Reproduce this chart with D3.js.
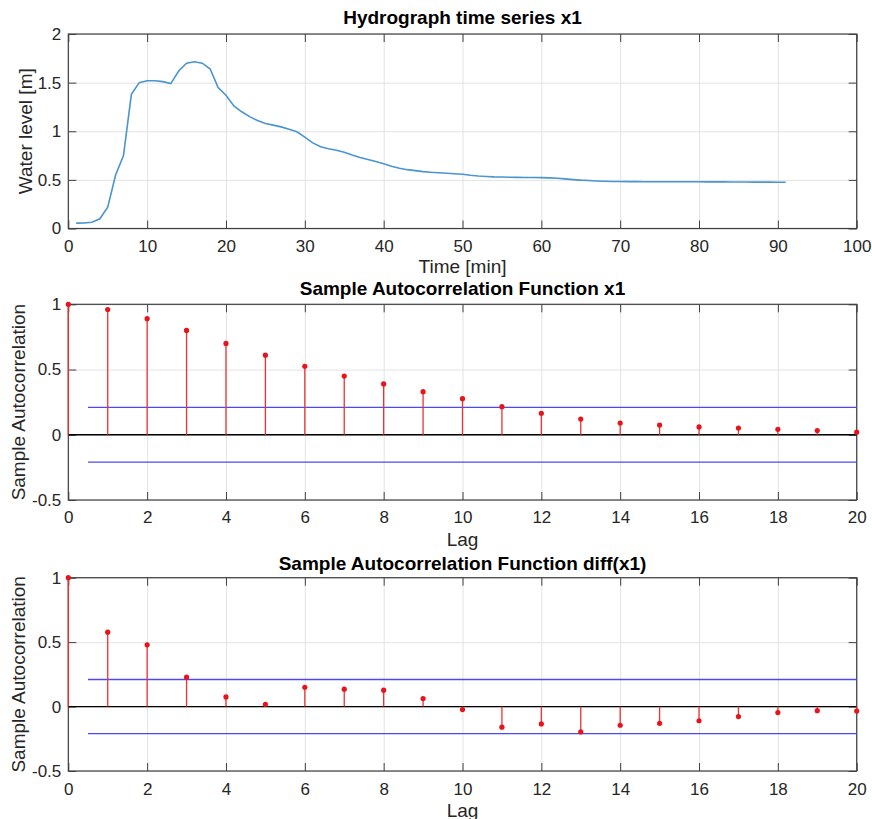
<!DOCTYPE html>
<html>
<head>
<meta charset="utf-8">
<script src="https://cdn.jsdelivr.net/npm/d3@7"></script>
<style>
body{margin:0;background:#fff;}
text{font-family:"Liberation Sans",Arial,Helvetica,sans-serif;fill:#262626;}
.title{font-weight:bold;font-size:19px;fill:#000;}
.label{font-size:19px;}
.tick text{font-size:17px;}
</style>
</head>
<body>
<svg id="chart"></svg>
<script>
//////////////////////////////////////////////////////////////
// data
//////////////////////////////////////////////////////////////

// water level [m], one value per minute, minute 1..91
var waterLevel = [
    0.055,0.056,0.065,0.10,0.22,0.55,0.75,1.38,1.50,1.52,
    1.52,1.51,1.49,1.62,1.70,1.715,1.70,1.64,1.45,1.37,
    1.26,1.20,1.15,1.11,1.08,1.063,1.045,1.02,0.995,0.94,
    0.88,0.84,0.82,0.805,0.785,0.755,0.73,0.71,0.69,0.665,
    0.64,0.62,0.605,0.595,0.585,0.578,0.573,0.568,0.563,0.558,
    0.548,0.540,0.535,0.531,0.529,0.527,0.526,0.525,0.524,0.523,
    0.521,0.517,0.510,0.503,0.497,0.493,0.489,0.486,0.484,0.483,
    0.482,0.482,0.481,0.481,0.481,0.480,0.480,0.480,0.480,0.480,
    0.479,0.479,0.479,0.478,0.478,0.478,0.477,0.477,0.477,0.476,
    0.476
];

// sample autocorrelation, lags 0..20
var acfX1 = [1,0.96,0.89,0.80,0.70,0.61,0.525,0.45,0.39,0.33,
    0.277,0.215,0.165,0.12,0.09,0.075,0.06,0.052,0.042,0.032,0.02];

var acfDiffX1 = [1,0.577,0.479,0.228,0.075,0.018,0.15,0.135,0.127,0.062,
    -0.023,-0.16,-0.135,-0.197,-0.145,-0.13,-0.11,-0.078,-0.047,-0.032,-0.035];

// confidence bounds
var boundX1 = 0.21;
var boundDiff = 0.21;

// tick labels
var timeTicks = [0,10,20,30,40,50,60,70,80,90,100];
var levelTicks = [0,0.5,1,1.5,2];
var lagTicks = [0,2,4,6,8,10,12,14,16,18,20];
var acfTicks = [-0.5,0,0.5,1];

//////////////////////////////////////////////////////////////
//////////////////////////////////////////////////////////////
var frameColor = "#404040";
var gridColor = "#e3e3e3";
var tickLen = 8;

var drawFrame = function(svg,box,xScale,yScale,xTicks,yTicks,pad)
{
    var h = box.bottom-box.top;
    var w = box.right-box.left;
    var fmt = function(d){return String(d);}
    var g = svg.append("g")

    //grid
    g.append("g")
        .attr("transform","translate(0,"+box.bottom+")")
        .call(d3.axisBottom(xScale).tickValues(xTicks)
            .tickSizeInner(-h).tickFormat(""))
        .call(function(a){a.select(".domain").remove();})
        .selectAll("line").attr("stroke",gridColor)
    g.append("g")
        .attr("transform","translate("+box.left+",0)")
        .call(d3.axisLeft(yScale).tickValues(yTicks)
            .tickSizeInner(-w).tickFormat(""))
        .call(function(a){a.select(".domain").remove();})
        .selectAll("line").attr("stroke",gridColor)

    //ticks pointing inwards, labels on left and bottom
    var axes = [
        {ax:d3.axisBottom(xScale).tickValues(xTicks).tickFormat(fmt).tickPadding(pad),
         t:"translate(0,"+box.bottom+")"},
        {ax:d3.axisTop(xScale).tickValues(xTicks).tickFormat(""),
         t:"translate(0,"+box.top+")"},
        {ax:d3.axisLeft(yScale).tickValues(yTicks).tickFormat(fmt).tickPadding(7),
         t:"translate("+box.left+",0)"},
        {ax:d3.axisRight(yScale).tickValues(yTicks).tickFormat(""),
         t:"translate("+box.right+",0)"}
    ];
    axes.forEach(function(a)
    {
        g.append("g")
            .attr("transform",a.t)
            .call(a.ax.tickSizeInner(-tickLen).tickSizeOuter(0))
            .call(function(s){s.select(".domain").remove();})
            .selectAll("line").attr("stroke",frameColor)
    })

    //box
    g.append("rect")
        .attr("x",box.left)
        .attr("y",box.top)
        .attr("width",w)
        .attr("height",h)
        .attr("fill","none")
        .attr("stroke",frameColor)
        .attr("stroke-width",1.2)
}

var drawLabels = function(svg,box,title,xTitle,yTitle,xBase,yBase,tBase)
{
    var cx = (box.left+box.right)/2;
    var cy = (box.top+box.bottom)/2;
    svg.append("text")
        .text(title)
        .classed("title",true)
        .attr("text-anchor","middle")
        .attr("x",cx)
        .attr("y",tBase)
    svg.append("text")
        .text(xTitle)
        .classed("label",true)
        .attr("text-anchor","middle")
        .attr("x",cx)
        .attr("y",xBase)
    svg.append("text")
        .text(yTitle)
        .classed("label",true)
        .attr("text-anchor","middle")
        .attr("transform","translate("+yBase+","+cy+") rotate(-90)")
}

var drawHydrograph = function(svg,xScale,yScale)
{
    var lineGenerator = d3.line()
        .x(function(level,index){return xScale(index+1);})
        .y(function(level){return yScale(level);})

    svg.append("path")
        .datum(waterLevel)
        .attr("d",lineGenerator)
        .attr("fill","none")
        .attr("stroke","#4a95d0")
        .attr("stroke-width",1.6)
}

var drawStems = function(svg,xScale,yScale,acf,bound)
{
    var g = svg.append("g")

    //zero line
    g.append("line")
        .attr("x1",xScale(0)).attr("x2",xScale(20))
        .attr("y1",yScale(0)).attr("y2",yScale(0))
        .attr("stroke","#000")
        .attr("stroke-width",1.3)

    //confidence bounds
    g.selectAll(".bound")
        .data([bound,-bound])
        .enter()
        .append("line")
        .classed("bound",true)
        .attr("x1",xScale(0.5)).attr("x2",xScale(20))
        .attr("y1",function(b){return yScale(b);})
        .attr("y2",function(b){return yScale(b);})
        .attr("stroke","#4a4af5")
        .attr("stroke-width",1.4)

    //stems
    g.selectAll(".stem")
        .data(acf)
        .enter()
        .append("line")
        .classed("stem",true)
        .attr("x1",function(v,i){return xScale(i);})
        .attr("x2",function(v,i){return xScale(i);})
        .attr("y1",yScale(0))
        .attr("y2",function(v){return yScale(v);})
        .attr("stroke","#f03030")
        .attr("stroke-width",1.3)

    g.selectAll(".dot")
        .data(acf)
        .enter()
        .append("circle")
        .classed("dot",true)
        .attr("cx",function(v,i){return xScale(i);})
        .attr("cy",function(v){return yScale(v);})
        .attr("r",2.6)
        .attr("fill","#e8141c")
}

var initGraph = function(target)
{
    var screen = {width:872, height:819};
    var svg = d3.select(target)
        .attr("width",screen.width)
        .attr("height",screen.height)

    var left = 68.3, right = 856.7;
    var boxTop = {left:left,right:right,top:34,bottom:228.5};
    var boxMid = {left:left,right:right,top:304.3,bottom:500};
    var boxBot = {left:left,right:right,top:577.7,bottom:771};

    //hydrograph
    var xTime = d3.scaleLinear().domain([0,100]).range([left,right]);
    var yLevel = d3.scaleLinear().domain([0,2]).range([boxTop.bottom,boxTop.top]);
    drawFrame(svg,boxTop,xTime,yLevel,timeTicks,levelTicks,11);
    drawHydrograph(svg,xTime,yLevel);
    drawLabels(svg,boxTop,"Hydrograph time series x1","Time [min]",
               "Water level [m]",273,32,24);

    //acf of x1
    var xLag = d3.scaleLinear().domain([0,20]).range([left,right]);
    var yMid = d3.scaleLinear().domain([-0.5,1]).range([boxMid.bottom,boxMid.top]);
    drawFrame(svg,boxMid,xLag,yMid,lagTicks,acfTicks,11);
    drawStems(svg,xLag,yMid,acfX1,boundX1);
    drawLabels(svg,boxMid,"Sample Autocorrelation Function x1","Lag",
               "Sample Autocorrelation",545.5,25,295);

    //acf of diff(x1)
    var yBot = d3.scaleLinear().domain([-0.5,1]).range([boxBot.bottom,boxBot.top]);
    drawFrame(svg,boxBot,xLag,yBot,lagTicks,acfTicks,12);
    drawStems(svg,xLag,yBot,acfDiffX1,boundDiff);
    drawLabels(svg,boxBot,"Sample Autocorrelation Function diff(x1)","Lag",
               "Sample Autocorrelation",816.5,25,570);
}

initGraph("#chart");
</script>
</body>
</html>
